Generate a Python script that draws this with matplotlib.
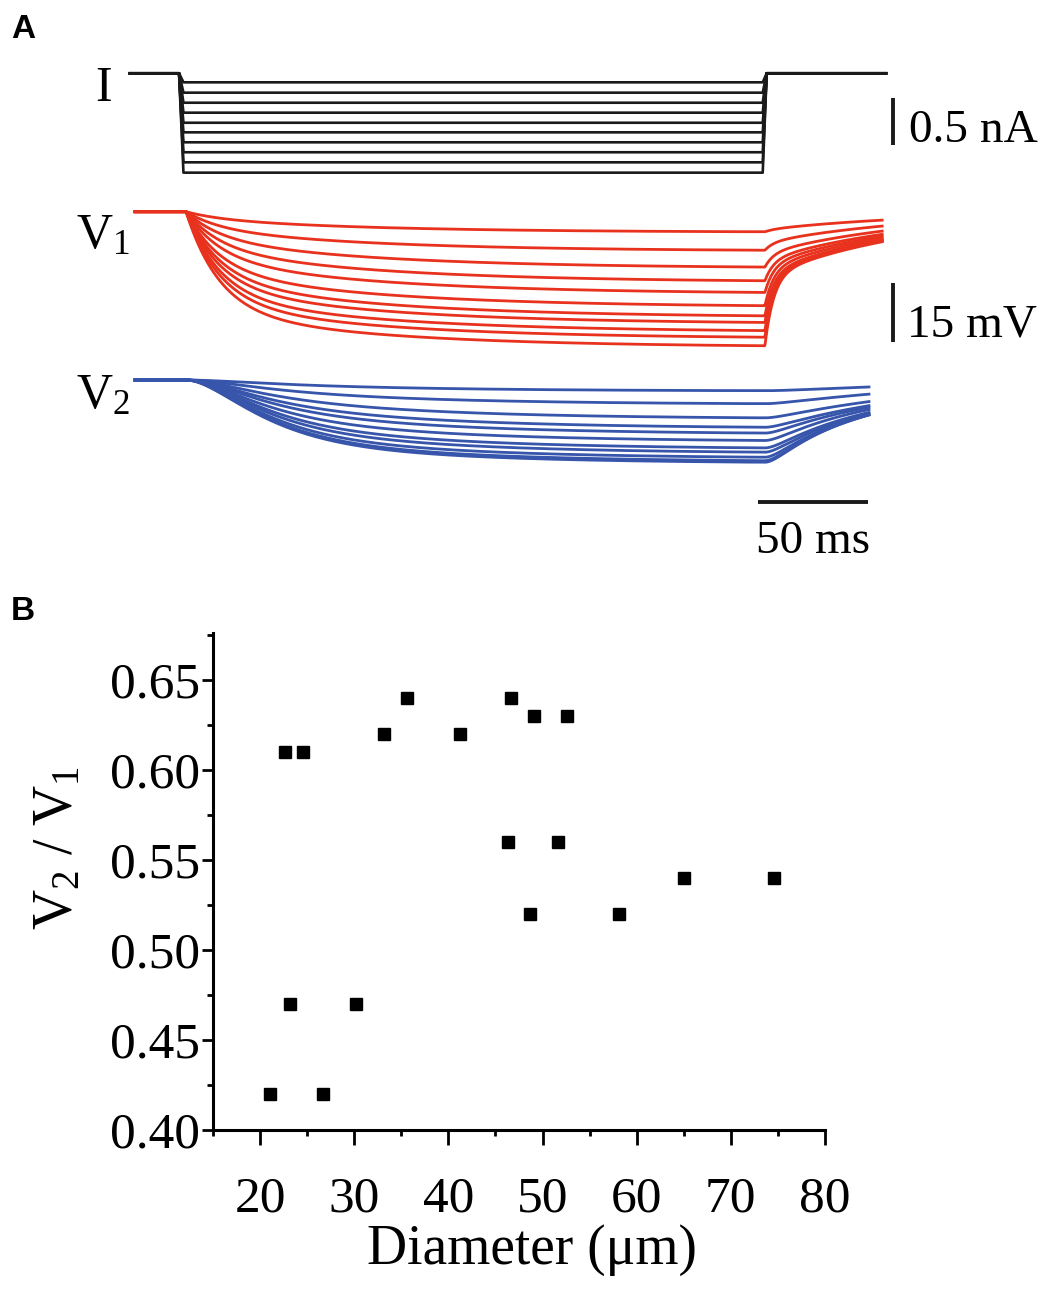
import numpy as np
import matplotlib
matplotlib.use("Agg")
import matplotlib.pyplot as plt
from matplotlib.ticker import MultipleLocator, FormatStrFormatter

plt.rcParams["font.family"] = ["Liberation Serif", "DejaVu Serif"]
plt.rcParams["mathtext.fontset"] = "custom"
plt.rcParams["mathtext.rm"] = "Liberation Serif"
plt.rcParams["mathtext.it"] = "Liberation Serif:italic"

# ---- panel A: recorded traces (read off the picture) ----
# current steps, nA
I_LEVELS_NA = [-0.096, -0.206, -0.313, -0.419, -0.526, -0.628, -0.734, -0.840, -0.947, -1.057]
I_KNOTS_MS = [0.0, 22.3, 24.3, 287.6, 289.4, 343.6]

# voltage deflection near the end of the step, mV
V1_PLATEAU_MV = [5.1, 9.8, 14.1, 17.6, 20.6, 24.0, 26.6, 28.3, 30.4, 32.1, 34.3]
V2_PLATEAU_MV = [2.7, 6.0, 9.6, 12.0, 13.5, 15.4, 17.3, 18.4, 19.7, 20.6, 21.0]
# share of the fast component in each V1 trace
V1_FAST_FRAC = [0.30, 0.40, 0.45, 0.50, 0.55, 0.60, 0.62, 0.65, 0.68, 0.70, 0.72]

V_START_MS = 2.3
V1_END_MS = 342.0
V2_END_MS = 336.0
V_ON_MS = 25.5
V_OFF_MS = 288.6
TAU_ON_FAST = 15.0
TAU_ON_SLOW = 80.0
TAU_OFF_FAST = 4.0
TAU_OFF_SLOW = 70.0
TAU_V2 = 24.0
T_REF_MS = 259.0

# ---- panel B ----
DIAMETER_UM = [21.1, 22.6, 24.6, 23.2, 26.7, 30.2, 33.2, 35.6, 41.2, 46.3,
               46.7, 48.7, 49.1, 51.6, 52.6, 58.1, 65.0, 74.6]
V2_V1_RATIO = [0.42, 0.61, 0.61, 0.47, 0.42, 0.47, 0.62, 0.64, 0.62, 0.56,
               0.64, 0.52, 0.63, 0.56, 0.63, 0.52, 0.54, 0.54]

W, H = 1048, 1300
BLACK = "#1a1a1a"
RED = "#e8321e"
BLUE = "#3655ab"


def px_axes(fig, left, top, right, bottom):
    return fig.add_axes([left / W, 1 - bottom / H, (right - left) / W, (bottom - top) / H])


def v1_shape(t, fast):
    """normalised V1 response to a square step (0 .. 1)"""
    out = np.zeros_like(t)
    on = (t >= V_ON_MS) & (t < V_OFF_MS)
    dt = t[on] - V_ON_MS
    out[on] = fast * (1 - np.exp(-dt / TAU_ON_FAST)) + (1 - fast) * (1 - np.exp(-dt / TAU_ON_SLOW))
    d_off = V_OFF_MS - V_ON_MS
    v_off = fast * (1 - np.exp(-d_off / TAU_ON_FAST)) + (1 - fast) * (1 - np.exp(-d_off / TAU_ON_SLOW))
    off = t >= V_OFF_MS
    dt = t[off] - V_OFF_MS
    f_off = max(fast - 0.2, 0.0)
    out[off] = v_off * (f_off * np.exp(-dt / TAU_OFF_FAST) + (1 - f_off) * np.exp(-dt / TAU_OFF_SLOW))
    return out


def lowpass(x, dt, tau):
    y = np.zeros_like(x)
    for i in range(1, len(x)):
        y[i] = y[i - 1] + (x[i] - y[i - 1]) * dt / tau
    return y


fig = plt.figure(figsize=(W / 100, H / 100), dpi=100)

# time axis: 2.2 px per ms, t = 0 at x = 130 px
t_left = (120 - 130) / 2.2
t_right = (1000 - 130) / 2.2
bar_t = (893 - 130) / 2.2

# current traces
ax_i = px_axes(fig, 120, 55, 1000, 190)
for level in I_LEVELS_NA:
    ax_i.plot(I_KNOTS_MS, [0, 0, level, level, 0, 0], color=BLACK, lw=1.9)
ax_i.set_xlim(t_left, t_right)
ax_i.set_ylim(-(190 - 73.3) / 94, (73.3 - 55) / 94)
ax_i.axis("off")
ax_i.plot([bar_t, bar_t], [-0.763, -0.263], color=BLACK, lw=2.8, solid_capstyle="butt")
ax_i.text((909 - 130) / 2.2, -0.731, "0.5 nA", fontsize=34, va="baseline", ha="left")
ax_i.text((104 - 130) / 2.2, -(101 - 73.3) / 94, "I", fontsize=36, va="baseline", ha="center")

# V1 traces
dt = 0.2
t1 = np.arange(V_START_MS, V1_END_MS, dt)
ax_v1 = px_axes(fig, 120, 195, 1000, 360)
for amp, fast in zip(V1_PLATEAU_MV, V1_FAST_FRAC):
    shape = v1_shape(t1, fast)
    ref = np.interp(T_REF_MS, t1, shape)
    ax_v1.plot(t1, -amp * shape / ref, color=RED, lw=2.0)
ax_v1.set_xlim(t_left, t_right)
ax_v1.set_ylim(-(360 - 211.7) / 3.89, (211.7 - 195) / 3.89)
ax_v1.axis("off")
ax_v1.plot([bar_t, bar_t], [-33.4, -18.4], color=BLACK, lw=2.8, solid_capstyle="butt")
ax_v1.text((907 - 130) / 2.2, -32.2, "15 mV", fontsize=34, va="baseline", ha="left")
ax_v1.text((103 - 130) / 2.2, -(248 - 211.7) / 3.89, r"$\mathrm{V}_{1}$", fontsize=36,
           va="baseline", ha="center")

# V2 traces
t2 = np.arange(V_START_MS, V2_END_MS, dt)
ax_v2 = px_axes(fig, 120, 362, 1000, 570)
for amp, fast in zip(V2_PLATEAU_MV, V1_FAST_FRAC):
    shape = lowpass(v1_shape(t2, fast), dt, TAU_V2)
    ref = np.interp(T_REF_MS, t2, shape)
    ax_v2.plot(t2, -amp * shape / ref, color=BLUE, lw=2.0)
ax_v2.set_xlim(t_left, t_right)
ax_v2.set_ylim(-(570 - 380) / 3.89, (380 - 362) / 3.89)
ax_v2.axis("off")
bar_start = (758.3 - 130) / 2.2
ax_v2.plot([bar_start, bar_start + 50], [-31.3, -31.3], color=BLACK, lw=2.8, solid_capstyle="butt")
ax_v2.text(bar_start + 25, -(553 - 380) / 3.89, "50 ms", fontsize=34, va="baseline", ha="center")
ax_v2.text((103 - 130) / 2.2, -(408 - 380) / 3.89, r"$\mathrm{V}_{2}$", fontsize=36,
           va="baseline", ha="center")

# ---- panel B ----
ax_b = px_axes(fig, 213, 633, 825, 1130)
ax_b.plot(DIAMETER_UM, V2_V1_RATIO, "s", color="black", markersize=8, clip_on=False)
ax_b.set_xlim(15, 80)
ax_b.set_ylim(0.40, 0.676)
ax_b.xaxis.set_major_locator(MultipleLocator(10))
ax_b.xaxis.set_minor_locator(MultipleLocator(5))
ax_b.yaxis.set_major_locator(MultipleLocator(0.05))
ax_b.yaxis.set_minor_locator(MultipleLocator(0.025))
ax_b.yaxis.set_major_formatter(FormatStrFormatter("%.2f"))
for side in ("top", "right"):
    ax_b.spines[side].set_visible(False)
for side in ("left", "bottom"):
    ax_b.spines[side].set_linewidth(2.2)
ax_b.tick_params(which="major", direction="out", length=8, width=2.0, labelsize=37)
ax_b.tick_params(which="minor", direction="out", length=4.5, width=2.0)
ax_b.tick_params(axis="x", which="major", length=11, pad=22)
ax_b.tick_params(axis="y", which="major", pad=1)
ax_b.set_xlabel("Diameter (μm)", fontsize=40)
ax_b.xaxis.set_label_coords((532 - 213) / 612, (1130 - 1250) / 497, transform=ax_b.transAxes)
ax_b.xaxis.label.set_va("center")
ax_b.set_ylabel(r"$\mathrm{V}_{2}$ / $\mathrm{V}_{1}$", fontsize=40)
ax_b.yaxis.set_label_coords((58 - 213) / 612, (1130 - 848) / 497, transform=ax_b.transAxes)
ax_b.yaxis.label.set_va("center")

# panel letters
fig.text(11 / W, 1 - 38 / H, "A", fontsize=24, fontweight="bold", family="Liberation Sans")
fig.text(11 / W, 1 - 620 / H, "B", fontsize=24, fontweight="bold", family="Liberation Sans")

fig.savefig("out.png", dpi=100)
